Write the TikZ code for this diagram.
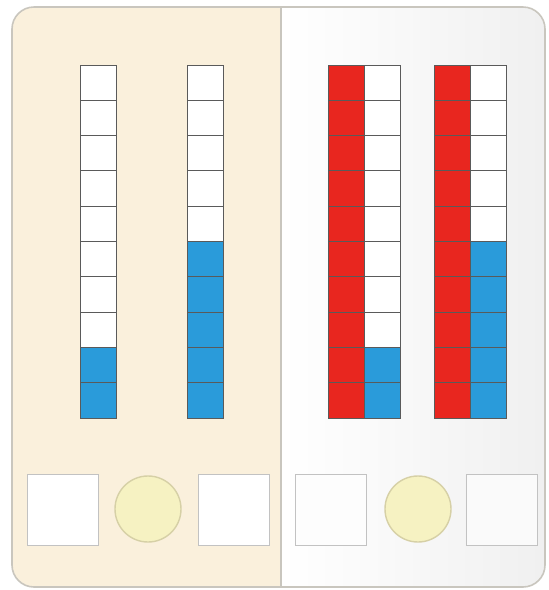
\documentclass[tikz,border=0pt]{standalone}
\usetikzlibrary{shapes.geometric}
\definecolor{beige}{HTML}{FAF0DC}
\definecolor{framegray}{HTML}{C9C6BE}
\definecolor{cellred}{HTML}{E8261F}
\definecolor{cellblue}{HTML}{2A9BDA}
\definecolor{cellline}{HTML}{5A5A5A}
\definecolor{circfill}{HTML}{F6F2C2}
\definecolor{circline}{HTML}{D6D0A6}
\definecolor{boxline}{HTML}{C2C2C2}
\tikzset{
  cellbox/.style={draw=cellline, line width=0.9pt, minimum width=36pt, minimum height=35.3pt, inner sep=0pt, outer sep=0pt, anchor=north west},
  whitecell/.style={cellbox, fill=white},
  bluecell/.style={cellbox, fill=cellblue},
  redcell/.style={cellbox, fill=cellred},
  answerbox/.style={draw=boxline, line width=1.4pt, fill=white, minimum width=71pt, minimum height=71pt, inner sep=0pt},
  signcircle/.style={circle, draw=circline, line width=1.4pt, fill=circfill, minimum size=66pt, inner sep=0pt},
}
\begin{document}
\begin{tikzpicture}[x=1pt,y=-1pt]
\useasboundingbox (0,0) rectangle (549,590);
% panels
\begin{scope}
\clip[rounded corners=22pt] (12,7) rectangle (545,587);
\fill[beige] (0,0) rectangle (281,590);
\shade[left color=white, right color=black!6] (281,0) rectangle (549,590);
\end{scope}
\draw[framegray, line width=1.6pt, rounded corners=22pt] (12,7) rectangle (545,587);
\draw[framegray, line width=1.2pt] (281,7) -- (281,587);
% column 1 (left): 2 blue
\foreach \i in {0,...,9}{
  \pgfmathtruncatemacro{\b}{\i>7 ? 1 : 0}
  \ifnum\b=1
    \node[bluecell] (a\i) at (80,65+35.3*\i) {};
  \else
    \node[whitecell] (a\i) at (80,65+35.3*\i) {};
  \fi
}
% column 2 (left): 5 blue
\foreach \i in {0,...,9}{
  \pgfmathtruncatemacro{\b}{\i>4 ? 1 : 0}
  \ifnum\b=1
    \node[bluecell] (b\i) at (187,65+35.3*\i) {};
  \else
    \node[whitecell] (b\i) at (187,65+35.3*\i) {};
  \fi
}
% right pair 1: red + 2 blue
\foreach \i in {0,...,9}{
  \node[redcell] (c\i) at (328,65+35.3*\i) {};
  \pgfmathtruncatemacro{\b}{\i>7 ? 1 : 0}
  \ifnum\b=1
    \node[bluecell] (d\i) at (364,65+35.3*\i) {};
  \else
    \node[whitecell] (d\i) at (364,65+35.3*\i) {};
  \fi
}
% right pair 2: red + 5 blue
\foreach \i in {0,...,9}{
  \node[redcell] (e\i) at (434,65+35.3*\i) {};
  \pgfmathtruncatemacro{\b}{\i>4 ? 1 : 0}
  \ifnum\b=1
    \node[bluecell] (f\i) at (470,65+35.3*\i) {};
  \else
    \node[whitecell] (f\i) at (470,65+35.3*\i) {};
  \fi
}
% answer boxes
\node[answerbox] (box1) at (63,510) {};
\node[signcircle] (circ1) at (148,509) {};
\node[answerbox] (box2) at (234,510) {};
\node[answerbox, fill=white!70!black!2] (box3) at (331,510) {};
\node[signcircle] (circ2) at (418,509) {};
\node[answerbox, fill=white!50!black!4] (box4) at (502,510) {};
\end{tikzpicture}
\end{document}
